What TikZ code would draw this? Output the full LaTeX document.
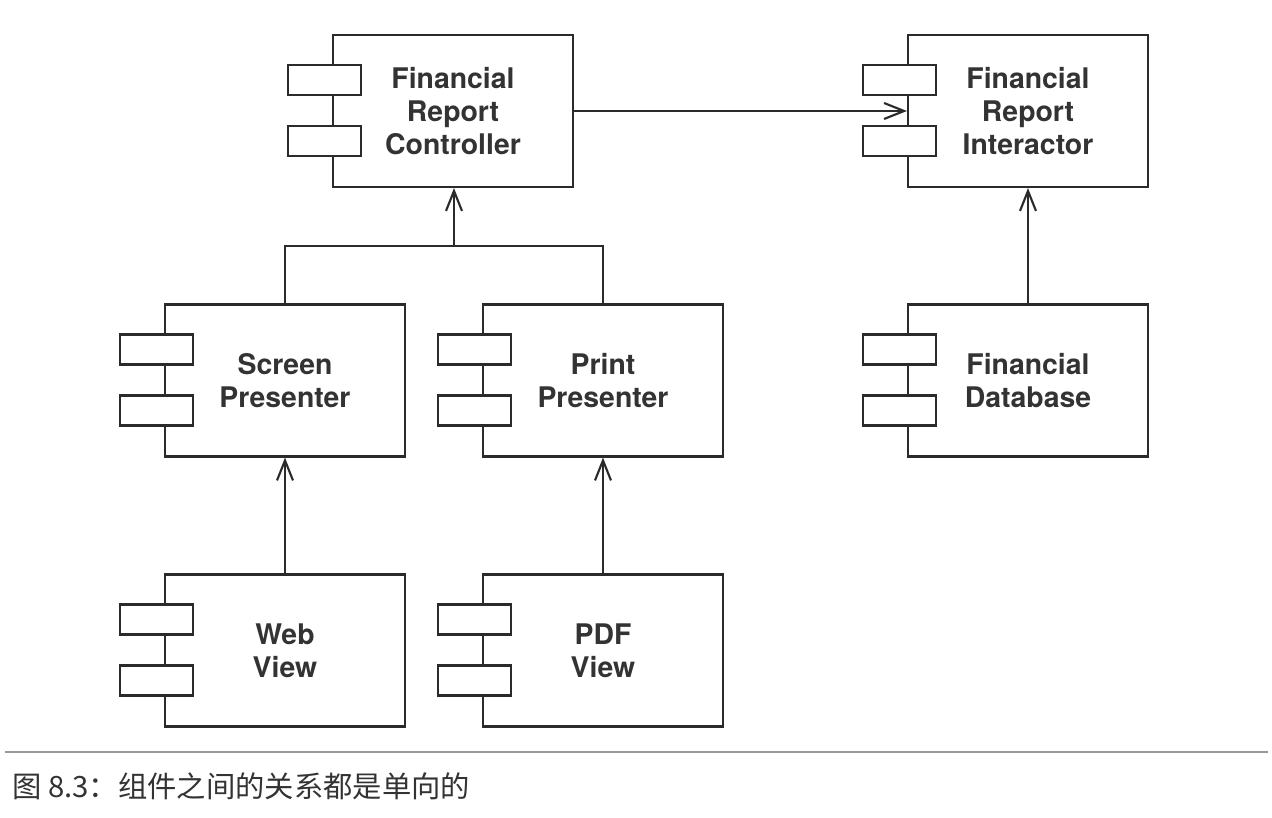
\documentclass[tikz,border=0pt]{standalone}
\usepackage{fontspec}
\setmainfont{TeX Gyre Heros}
\newfontfamily\cjk{Noto Sans CJK SC}
\usetikzlibrary{arrows.meta,calc}
\definecolor{ink}{HTML}{2B2B2B}
\definecolor{txt}{HTML}{333333}
\tikzset{
  comp/.style={draw=ink, line width=1.6pt, rectangle, minimum width=180pt, minimum height=114pt,
    align=center, text=txt, font=\fontsize{21.3}{24.75}\selectfont\bfseries, inner sep=0pt},
  tab/.style={draw=ink, line width=1.6pt, fill=white, rectangle, minimum width=54.75pt, minimum height=22.5pt, inner sep=0pt},
  conn/.style={draw=ink, line width=1.6pt, -{Straight Barb[length=15pt,width=12pt,line width=1.6pt]}},
  plain/.style={draw=ink, line width=1.6pt}
}
\newcommand{\comptabs}[1]{%
  \node[tab] (#1t1) at ($(#1.west)+(-7.5,-31)$) {};
  \node[tab] (#1t2) at ($(#1.west)+(-7.5,30)$) {};}
\newcommand{\lift}[1]{\raisebox{2pt}{\begin{tabular}{@{}c@{}}#1\end{tabular}}}
\begin{document}
\begin{tikzpicture}[x=0.75pt,y=-0.75pt]
\useasboundingbox (0,0) rectangle (1272,818);
\node[comp] (ctrl) at (453,111) {Financial\\Report\\Controller};
\node[comp] (inter) at (1028,111) {Financial\\Report\\Interactor};
\node[comp] (screen) at (285,380.5) {Screen\\Presenter};
\node[comp] (print) at (603,380.5) {Print\\Presenter};
\node[comp] (db) at (1028,380.5) {Financial\\Database};
\node[comp] (web) at (285,650.5) {Web\\View};
\node[comp] (pdf) at (603,650.5) {PDF\\View};
\comptabs{ctrl}\comptabs{inter}\comptabs{screen}\comptabs{print}\comptabs{db}\comptabs{web}\comptabs{pdf}
\coordinate (j) at (454,246);
\draw[conn] (ctrl.east) -- (inter.west);
\draw[plain] (screen.north) |- (j) -| (print.north);
\draw[conn] (j) -- (j |- ctrl.south);
\draw[conn] (db.north) -- (inter.south);
\draw[conn] (web.north) -- (screen.south);
\draw[conn] (pdf.north) -- (print.south);
\coordinate (s1) at (5,752);
\coordinate (s2) at (1268,752);
\draw[draw=gray!80, line width=1.2pt] (s1) -- (s2);
\node[anchor=west, inner sep=0pt, text=txt, font=\cjk\fontsize{22}{24}\selectfont] (cap) at (12,786) {图 8.3：组件之间的关系都是单向的};
\end{tikzpicture}
\end{document}
